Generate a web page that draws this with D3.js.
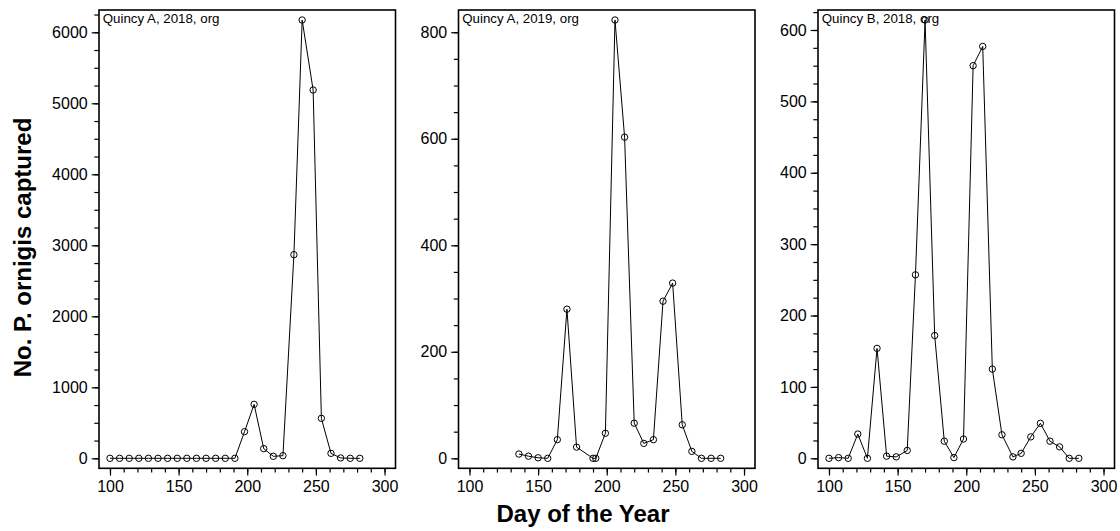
<!DOCTYPE html>
<html><head><meta charset="utf-8">
<script src="https://cdn.jsdelivr.net/npm/d3@7"></script>
<style>
html,body{margin:0;padding:0;background:#fff;}
text{font-family:"Liberation Sans",Arial,Helvetica,sans-serif;}
</style>
</head><body>
<svg id="c" width="1120" height="531"></svg>
<script>
// ---- data ----
const panelTitles = ["Quincy A, 2018, org", "Quincy A, 2019, org", "Quincy B, 2018, org"];

const daysA18   = [100,107,114,121,128,135,142,149,156,163,170,177,184,191,198,205,212,219,226,234,240,248,254,261,268,275,282];
const countsA18 = [0,0,0,0,0,0,0,0,0,0,0,0,0,0,375,760,136,28,37,2868,6173,5187,563,70,5,0,0];

const daysA19   = [136,143,150,157,164,171,178,190,192,199,206,213,220,227,234,241,248,255,262,269,276,283];
const countsA19 = [8,4,1,0,35,280,21,0,0,47,823,603,66,28,35,295,329,63,13,0,0,0];

const daysB18   = [100,107,114,121,128,135,142,149,157,163,170,177,184,191,198,205,212,219,226,234,240,247,254,261,268,275,282];
const countsB18 = [0,1,0,34,0,154,3,2,11,257,614,172,24,1,27,550,577,125,33,2,7,30,49,24,16,0,0];

const yTickStep  = [1000, 200, 100];
const yMinorStep = [250, 50, 25];
const xTicks = [100,150,200,250,300];
const xDomain = [92, 308];

const xTitle = "Day of the Year";
const yTitle = "No. P. ornigis captured";

// ---- layout ----
const series = [[daysA18,countsA18],[daysA19,countsA19],[daysB18,countsB18]];
const panelLeft = [99, 458.5, 818];
const panelW = 296.5;
const plotTop = 10, plotBottom = 468.3;

const svg = d3.select("#c");

series.forEach(([days, counts], i) => {
  const x0 = panelLeft[i];
  const g = svg.append("g");
  const x = d3.scaleLinear().domain(xDomain).range([x0, x0 + panelW]);
  const mx = d3.max(counts);
  const pad = mx * 0.0228;
  const y = d3.scaleLinear().domain([-pad, mx + pad]).range([plotBottom, plotTop]);

  const yMinor = d3.range(0, mx + pad, yMinorStep[i]);
  const yMajor = d3.range(0, mx + pad, yTickStep[i]);
  const xMinor = d3.range(100, 301, 10);

  const yAxisMinor = d3.axisLeft(y).tickValues(yMinor).tickSize(4.7).tickFormat("");
  const yAxisMajor = d3.axisLeft(y).tickValues(yMajor).tickSize(7.3).tickPadding(4).tickFormat(d3.format("d"));
  const xAxisMinor = d3.axisBottom(x).tickValues(xMinor).tickSize(4.3).tickFormat("");
  const xAxisMajor = d3.axisBottom(x).tickValues(xTicks).tickSize(7.3).tickPadding(5).tickFormat(d3.format("d"));

  [yAxisMinor, yAxisMajor].forEach(ax => {
    const a = g.append("g").attr("transform", `translate(${x0},0)`).call(ax);
    a.select(".domain").remove();
  });
  [xAxisMinor, xAxisMajor].forEach(ax => {
    const a = g.append("g").attr("transform", `translate(0,${plotBottom})`).call(ax);
    a.select(".domain").remove();
  });
  g.selectAll(".tick line").attr("stroke", "#000").attr("stroke-width", 1.2);
  g.selectAll(".tick text").attr("fill", "#000").style("font-size", "16px")
    .style("font-family", '"Liberation Sans", Arial, Helvetica, sans-serif');

  g.append("rect").attr("x", x0).attr("y", plotTop).attr("width", panelW).attr("height", plotBottom - plotTop)
    .attr("fill", "none").attr("stroke", "#000").attr("stroke-width", 1.6);

  const pts = days.map((d, k) => [d, counts[k]]);
  const line = d3.line().x(d => x(d[0])).y(d => y(d[1]));
  g.append("path").attr("d", line(pts)).attr("fill", "none").attr("stroke", "#000").attr("stroke-width", 1);
  g.selectAll("circle.pt").data(pts).enter().append("circle")
    .attr("cx", d => x(d[0])).attr("cy", d => y(d[1])).attr("r", 3.2)
    .attr("fill", "none").attr("stroke", "#000").attr("stroke-width", 1);

  g.append("text").attr("x", x0 + 3.7).attr("y", 23.3).style("font-size", "13.3px")
    .attr("fill", "#000").text(panelTitles[i]);
});

svg.append("text").attr("x", 583).attr("y", 522).attr("text-anchor", "middle")
  .style("font-size", "24px").style("font-weight", "bold").text(xTitle);
svg.append("text").attr("transform", "translate(31.3,247.5) rotate(-90)").attr("text-anchor", "middle")
  .style("font-size", "24px").style("font-weight", "bold").text(yTitle);
</script>
</body></html>
